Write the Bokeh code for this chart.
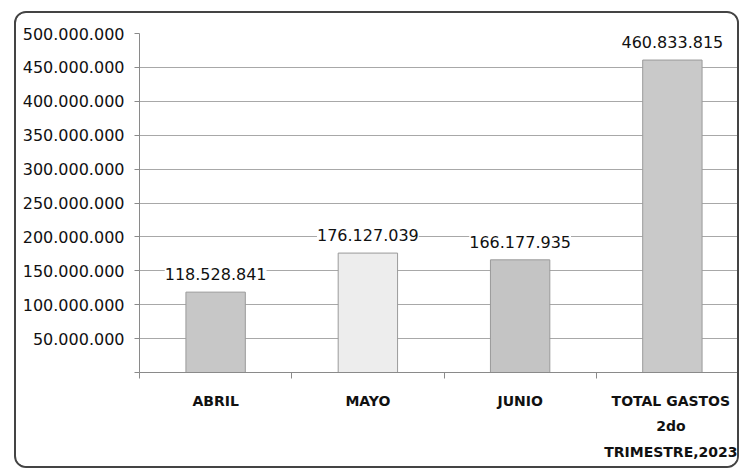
from bokeh.plotting import figure
from bokeh.models import ColumnDataSource, Range1d, FixedTicker, LabelSet
from bokeh.core.properties import value
from bokeh.embed import file_html
from bokeh.resources import INLINE

categories = ["ABRIL", "MAYO", "JUNIO", "TOTAL GASTOS\n2do\nTRIMESTRE,2023"]
values = [118528841, 176127039, 166177935, 460833815]
bar_colors = ["#c7c7c7", "#ededed", "#c4c4c4", "#c9c9c9"]
y_ticks = [0, 50000000, 100000000, 150000000, 200000000, 250000000,
           300000000, 350000000, 400000000, 450000000, 500000000]

def fmt(v):
    return f"{v:,}".replace(",", ".")

xs = [i + 0.5 for i in range(len(categories))]
src = ColumnDataSource(dict(x=xs, top=values, color=bar_colors,
                            label=[fmt(v) for v in values]))

FONT = "DejaVu Sans"

p = figure(width=725, height=457, output_backend="svg", toolbar_location=None,
           x_range=Range1d(0, 3.954), y_range=Range1d(0, 500000000),
           min_border_left=123, min_border_right=0, min_border_top=20,
           min_border_bottom=98)
p.outline_line_color = None
p.background_fill_color = "white"
p.border_fill_color = "white"
p.margin = (11, 0, 0, 14)
p.styles = {"border": "2px solid #444444", "border-radius": "12px",
            "overflow": "hidden"}

p.vbar(x="x", top="top", width=0.39, source=src, fill_color="color",
       line_color="#9a9a9a", line_width=1)

labels = LabelSet(x="x", y="top", text="label", source=src, y_offset=18,
                  text_align="center", text_baseline="middle",
                  text_font=value(FONT), text_font_size="16px",
                  text_color="#111111", background_fill_color="white")
p.add_layout(labels)

# y axis
p.yaxis.ticker = FixedTicker(ticks=y_ticks)
p.yaxis.major_label_overrides = {t: (fmt(t) if t else "") for t in y_ticks}
p.yaxis.major_label_text_font = FONT
p.yaxis.major_label_text_font_size = "16px"
p.yaxis.major_label_text_color = "#111111"
p.yaxis.major_label_standoff = 10
p.yaxis.major_tick_out = 5
p.yaxis.major_tick_in = 0
p.yaxis.minor_tick_line_color = None
p.yaxis.axis_line_color = "#8a8a8a"
p.yaxis.major_tick_line_color = "#8a8a8a"

# x axis
p.xaxis.ticker = FixedTicker(ticks=xs, minor_ticks=[0, 1, 2, 3, 4])
p.xaxis.major_label_overrides = {x: c for x, c in zip(xs, categories)}
p.xaxis.major_tick_line_color = None
p.xaxis.minor_tick_out = 6
p.xaxis.minor_tick_in = 0
p.xaxis.minor_tick_line_color = "#8a8a8a"
p.xaxis.axis_line_color = "#8a8a8a"
p.xaxis.major_label_text_font = FONT
p.xaxis.major_label_text_font_size = "14px"
p.xaxis.major_label_text_font_style = "bold"
p.xaxis.major_label_text_color = "#111111"
p.xaxis.major_label_text_line_height = 1.6
p.xaxis.major_label_standoff = 14

p.xgrid.grid_line_color = None
p.ygrid.ticker = FixedTicker(ticks=y_ticks[1:])
p.ygrid.grid_line_color = "#a8a8a8"
p.ygrid.grid_line_width = 1

open("out.html", "w").write(file_html(p, INLINE))
